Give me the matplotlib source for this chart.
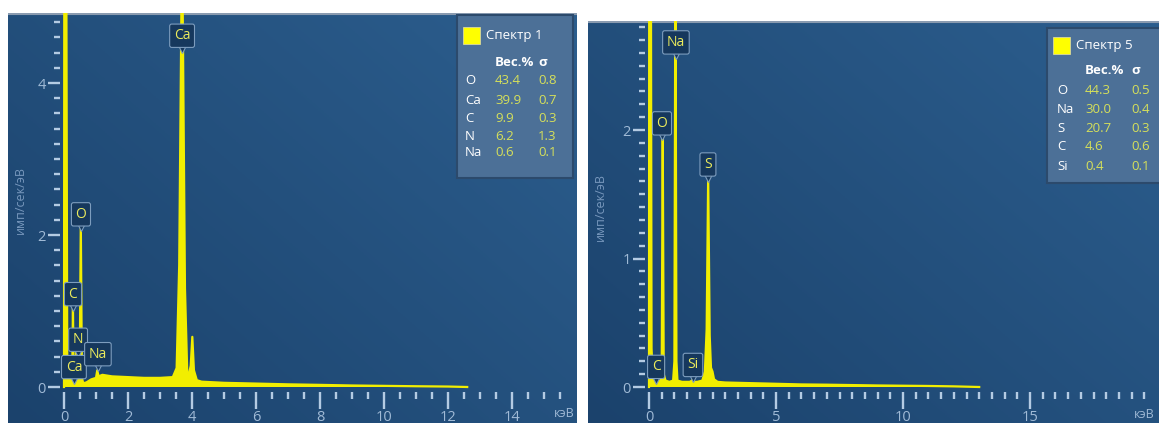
import matplotlib
matplotlib.use("Agg")
import matplotlib.pyplot as plt
import numpy as np
from matplotlib.patches import Rectangle, FancyBboxPatch

plt.rcParams['font.family'] = ['Open Sans', 'DejaVu Sans']

W, H = 1159, 423

# spectrum 1: energy (keV) / counts (imp/s/eV)
energy_1 = [0.0, 0.01, 0.07, 0.1, 0.14, 0.18, 0.22, 0.26, 0.28, 0.30, 0.32, 0.34, 0.36,
            0.39, 0.42, 0.45, 0.49, 0.525, 0.56, 0.6, 0.7, 0.85, 1.0, 1.04, 1.08, 1.2,
            1.5, 2.0, 2.5, 3.0, 3.4, 3.52, 3.6, 3.69, 3.78, 3.85, 3.9, 3.96, 4.01, 4.06,
            4.15, 4.3, 5.0, 6.0, 7.0, 8.0, 9.0, 10.0, 11.0, 12.0, 12.6]
counts_1 = [0.0, 6.0, 6.0, 0.45, 0.05, 0.15, 0.18, 0.3, 1.05, 0.2, 0.18, 0.3, 0.15,
            0.5, 0.12, 0.04, 0.12, 2.17, 0.12, 0.05, 0.06, 0.1, 0.12, 0.22, 0.14, 0.16,
            0.14, 0.13, 0.12, 0.12, 0.13, 0.25, 1.6, 6.0, 1.3, 0.2, 0.16, 0.28, 0.66, 0.22,
            0.09, 0.07, 0.055, 0.045, 0.035, 0.028, 0.02, 0.015, 0.01, 0.006, 0.0]

# spectrum 5
energy_5 = [0.0, 0.01, 0.07, 0.1, 0.15, 0.2, 0.25, 0.28, 0.31, 0.36, 0.45, 0.5, 0.54,
            0.58, 0.65, 0.8, 0.95, 1.0, 1.04, 1.08, 1.12, 1.3, 1.6, 1.7, 1.74, 1.78, 1.9,
            2.1, 2.2, 2.27, 2.33, 2.39, 2.44, 2.5, 2.56, 2.7, 3.0, 4.0, 5.0, 6.0, 7.0,
            8.0, 9.0, 10.0, 11.0, 12.0, 13.0]
counts_5 = [0.0, 4.0, 4.0, 0.3, 0.08, 0.1, 0.09, 0.12, 0.06, 0.04, 0.05, 0.1, 1.99,
            0.1, 0.05, 0.04, 0.05, 0.2, 3.5, 0.2, 0.05, 0.04, 0.04, 0.05, 0.07, 0.04, 0.04,
            0.05, 0.12, 0.45, 1.64, 0.4, 0.15, 0.12, 0.06, 0.04, 0.035, 0.03, 0.025, 0.02,
            0.018, 0.015, 0.012, 0.01, 0.008, 0.005, 0.0]

# element markers: label, x (keV), pointer tip (imp/s/eV)
marks_1 = [("Ca", 3.69, 4.45), ("O", 0.53, 2.10), ("C", 0.28, 1.05),
           ("N", 0.44, 0.45), ("Ca", 0.31, 0.09), ("Na", 1.06, 0.26)]
marks_5 = [("Na", 1.06, 2.58), ("O", 0.51, 1.95), ("S", 2.32, 1.63),
           ("C", 0.28, 0.055), ("Si", 1.73, 0.07)]

# quantification tables
elems_1 = ["O", "Ca", "C", "N", "Na"]
wt_1 = ["43.4", "39.9", "9.9", "6.2", "0.6"]
sig_1 = ["0.8", "0.7", "0.3", "1.3", "0.1"]
elems_5 = ["O", "Na", "S", "C", "Si"]
wt_5 = ["44.3", "30.0", "20.7", "4.6", "0.4"]
sig_5 = ["0.5", "0.4", "0.3", "0.6", "0.1"]

YEL = "#f2ee00"
TICK = "#b4cbe3"
LAB = "#a0bad6"


def frac(px, py):
    return px / W, 1 - py / H


def panel(x0, y0, x1, y1, zero_px, kev_px, zero_py, unit_py):
    left, bottom = x0 / W, 1 - y1 / H
    rect = [left, bottom, (x1 - x0) / W, (y1 - y0) / H]
    bg = fig.add_axes(rect, zorder=0)
    yy, xx = np.mgrid[0:1:200j, 0:1:200j]
    g = 0.55 * xx + 0.45 * yy
    c0 = np.array([0x1b, 0x42, 0x6c]) / 255
    c1 = np.array([0x2c, 0x5e, 0x8e]) / 255
    img = c0 + (c1 - c0) * g[..., None]
    bg.imshow(img, origin="lower", extent=[0, 1, 0, 1], aspect="auto")
    bg.plot([0, 1], [0.997, 0.997], color="#8a9bb0", lw=1.5)
    bg.set_xlim(0, 1)
    bg.set_ylim(0, 1)
    bg.axis("off")
    ax = fig.add_axes(rect, zorder=1)
    ax.set_facecolor("none")
    ax.set_xlim((x0 - zero_px) / kev_px, (x1 - zero_px) / kev_px)
    ax.set_ylim((zero_py - y1) / unit_py, (zero_py - y0) / unit_py)
    for s in ax.spines.values():
        s.set_visible(False)
    ax.spines["bottom"].set_position(("data", -5 / unit_py))
    ax.spines["left"].set_position(("data", -4 / kev_px))
    return ax


def draw(ax, e, c, marks):
    ax.fill_between(e, c, 0, color=YEL, lw=0, zorder=2)
    ax.plot(e, c, color=YEL, lw=1.6, zorder=2)
    for lab, x, tip in marks:
        ax.plot(x, tip, marker="v", ms=6, mfc="#16385d", mec="#7d9dbe", mew=0.8, zorder=4)
        ax.annotate(lab, (x, tip), xytext=(0, 4), textcoords="offset points",
                    ha="center", va="bottom", color="#ecec5c", fontsize=10, zorder=5,
                    bbox=dict(boxstyle="round,pad=0.3,rounding_size=0.15",
                              fc="#16385d", ec="#7d9dbe", lw=0.8))


def style(ax, xmaj, xmin, ymaj, ymin):
    ax.set_xticks(xmaj)
    ax.set_xticks(xmin, minor=True)
    ax.set_yticks(ymaj)
    ax.set_yticks(ymin, minor=True)
    ax.set_xticklabels([str(v) for v in xmaj])
    ax.set_yticklabels([str(v) for v in ymaj])
    ax.tick_params(axis="x", which="major", length=12, width=1.7, color=TICK,
                   labelcolor=LAB, labelsize=10.5, pad=1)
    ax.tick_params(axis="x", which="minor", length=5, width=1.7, color=TICK)
    ax.tick_params(axis="y", which="major", length=9, width=1.7, color=TICK,
                   labelcolor=LAB, labelsize=10.5, pad=1)
    ax.tick_params(axis="y", which="minor", length=4, width=1.7, color=TICK)


def legend(x0, y0, x1, y1, title, sq, rows_y, col_x, elems, wt, sig):
    box = FancyBboxPatch(frac(x0, y1), (x1 - x0) / W, (y1 - y0) / H,
                         boxstyle="square,pad=0", transform=fig.transFigure,
                         fc="#4c7097", ec="#2c4a6c", lw=1.5, zorder=10)
    fig.patches.append(box)
    sx, sy, ss = sq
    fig.patches.append(Rectangle(frac(sx, sy + ss), ss / W, ss / H, transform=fig.transFigure,
                                 fc="#ffff00", ec="#d8d8a0", lw=0.6, zorder=11))
    fig.text(*frac(sx + ss + 6, sy + ss / 2), title, color="white", fontsize=9.5,
             va="center", zorder=12)
    ex, wx, gx = col_x
    hy = rows_y[0] - (rows_y[1] - rows_y[0])
    fig.text(*frac(wx, hy), "Вес.%", color="white", fontsize=9.5, fontweight="bold",
             va="center", zorder=12)
    fig.text(*frac(gx, hy), "σ", color="white", fontsize=9.5, fontweight="bold",
             va="center", zorder=12)
    for yy, el, w, s in zip(rows_y, elems, wt, sig):
        fig.text(*frac(ex, yy), el, color="white", fontsize=9.5, va="center", zorder=12)
        fig.text(*frac(wx, yy), w, color="#d6e05a", fontsize=9.5, va="center", zorder=12)
        fig.text(*frac(gx, yy), s, color="#d6e05a", fontsize=9.5, va="center", zorder=12)


fig = plt.figure(figsize=(W / 100, H / 100), dpi=100)
fig.patch.set_facecolor("white")

ax1 = panel(8, 13, 577, 423, 64, 32, 387, 76)
draw(ax1, energy_1, counts_1, marks_1)
style(ax1, list(range(0, 15, 2)), list(np.arange(0, 16, 0.5)),
      [0, 2, 4], list(np.arange(0, 4.95, 0.2)))
ax1.text((564 - 64) / 32, (387 - 413) / 76, "кэВ", color=LAB,
         fontsize=9, ha="center", va="center")
fig.text(*frac(20, 200), "имп/сек/эВ", rotation=90, color="#7898bd", fontsize=9,
         ha="center", va="center")

ax2 = panel(588, 21, 1159, 423, 649, 25.4, 387, 128.5)
draw(ax2, energy_5, counts_5, marks_5)
style(ax2, [0, 5, 10, 15], list(np.arange(0, 20, 0.5)),
      [0, 1, 2], list(np.arange(0, 2.85, 0.1)))
ax2.text((1144 - 649) / 25.4, (387 - 414) / 128.5, "кэВ", color=LAB,
         fontsize=9, ha="center", va="center")
fig.text(*frac(600, 207), "имп/сек/эВ", rotation=90, color="#7898bd", fontsize=9,
         ha="center", va="center")

legend(457, 15, 573, 178, "Спектр 1", (463, 27, 17), [81, 100, 118, 136, 153],
       (465, 495, 538), elems_1, wt_1, sig_1)
legend(1047, 28, 1162, 183, "Спектр 5", (1053, 37, 17), [90, 109, 128, 147, 166],
       (1057, 1085, 1131), elems_5, wt_5, sig_5)

fig.savefig("out.png", dpi=100, facecolor="white")
